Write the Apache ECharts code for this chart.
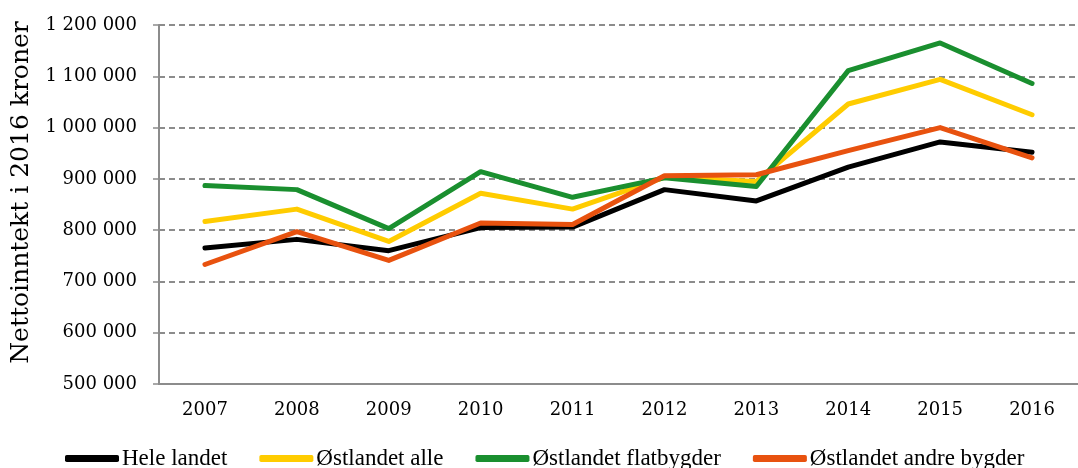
<!DOCTYPE html>
<html>
<head>
<meta charset="utf-8">
<script src="https://cdn.jsdelivr.net/npm/echarts@6/dist/echarts.min.js"></script>
<style>html,body{margin:0;padding:0;background:#fff}#c{width:1078px;height:468px}</style>
</head>
<body>
<div id="c"></div>
<script>
const years = ['2007','2008','2009','2010','2011','2012','2013','2014','2015','2016'];
const heleLandet = [765000, 782000, 760000, 805000, 806000, 879000, 857000, 923000, 972000, 952000];
const ostlandetAlle = [817000, 841000, 778000, 872000, 841000, 903000, 895000, 1046000, 1094000, 1025000];
const ostlandetFlat = [887000, 879000, 803000, 914000, 864000, 902000, 885000, 1111000, 1165000, 1086000];
const ostlandetAndre = [733000, 797000, 741000, 814000, 811000, 906000, 908000, 955000, 1000000, 941000];
const seriesNames = ['Hele landet', 'Østlandet alle', 'Østlandet flatbygder', 'Østlandet andre bygder'];
const colors = ['#000000', '#FFCC00', '#1A8F2F', '#E8520F'];

function fmt(v){ return String(v).replace(/\B(?=(\d{3})+(?!\d))/g, ' '); }

const chart = echarts.init(document.getElementById('c'), null, {renderer:'canvas'});
const dataSets = [heleLandet, ostlandetAlle, ostlandetFlat, ostlandetAndre];
chart.setOption({
  animation: false,
  color: colors,
  textStyle: {fontFamily: 'DejaVu Serif'},
  grid: {left: 159, right: -12, top: 25, bottom: 84, containLabel: false},
  legend: {
    left: 60, top: 442,
    icon: 'roundRect', itemWidth: 54, itemHeight: 7, itemGap: 32,
    textStyle: {fontFamily: 'Liberation Serif', fontSize: 23, color: '#000', padding: [0,0,0,-2]},
    data: seriesNames
  },
  xAxis: {
    type: 'category', data: years, boundaryGap: true,
    axisLine: {lineStyle: {color: '#8c8c8c', width: 2}},
    axisTick: {show: false},
    axisLabel: {color: '#000', fontSize: 18, margin: 17, fontFamily: 'DejaVu Serif'},
    splitLine: {show: false}
  },
  yAxis: {
    type: 'value', min: 500000, max: 1200000, interval: 100000,
    name: 'Nettoinntekt i 2016 kroner', nameLocation: 'middle', nameGap: 124,
    nameTextStyle: {fontSize: 25, color: '#000', fontFamily: 'DejaVu Serif', padding: [0, 0, 0, 24]},
    axisLine: {show: true, lineStyle: {color: '#8c8c8c', width: 2}},
    axisTick: {show: true, length: 6, lineStyle: {color: '#8c8c8c', width: 1.5}},
    axisLabel: {color: '#000', fontSize: 18, margin: 22, formatter: fmt, fontFamily: 'DejaVu Serif'},
    splitLine: {show: true, lineStyle: {color: '#8c8c8c', width: 2, type: [6, 4]}}
  },
  series: seriesNames.map((n, i) => ({
    name: n, type: 'line', data: dataSets[i], symbol: 'none',
    lineStyle: {width: 5, color: colors[i], cap: 'round', join: 'round'},
    itemStyle: {color: colors[i]}
  }))
});
</script>
</body>
</html>
